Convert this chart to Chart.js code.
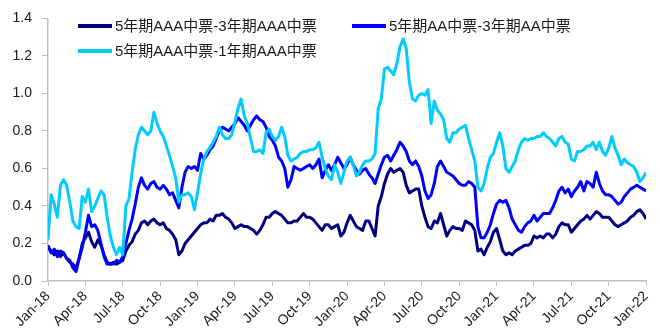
<!DOCTYPE html>
<html>
<head>
<meta charset="utf-8">
<script src="https://cdn.jsdelivr.net/npm/chart.js@4/dist/chart.umd.min.js"></script>
<style>
  html, body { margin: 0; padding: 0; background: #ffffff; }
  #wrap { width: 660px; height: 333px; position: relative; }
</style>
</head>
<body>
<div id="wrap"><canvas id="c" width="660" height="333"></canvas></div>
<script>
// Quarter tick labels on the time axis (one every 3 months)
const quarterLabels = ['Jan-18','Apr-18','Jul-18','Oct-18','Jan-19','Apr-19','Jul-19','Oct-19',
  'Jan-20','Apr-20','Jul-20','Oct-20','Jan-21','Apr-21','Jul-21','Oct-21','Jan-22'];

// Spread series, one value per quarter month from Jan 2018 to Jan 2022 (pct points);
// each row holds one quarter of a year
const spreadAAA5y3y = [
  0.18,0.16,0.14,0.16,0.13,0.15,0.12,0.10,0.09,0.07,0.12,0.20,
  0.23,0.26,0.21,0.18,0.22,0.19,0.14,0.10,0.09,0.10,0.09,0.10,
  0.11,0.16,0.19,0.21,0.25,0.27,0.31,0.32,0.30,0.32,0.33,0.31,
  0.30,0.31,0.28,0.27,0.25,0.22,0.14,0.16,0.20,0.22,0.24,0.26,
  0.28,0.30,0.31,0.31,0.33,0.32,0.35,0.35,0.36,0.34,0.33,0.31,
  0.28,0.29,0.30,0.29,0.29,0.28,0.27,0.25,0.27,0.30,0.34,0.34,
  0.36,0.37,0.36,0.35,0.33,0.31,0.31,0.32,0.32,0.34,0.36,0.34,
  0.34,0.33,0.31,0.29,0.27,0.30,0.30,0.28,0.29,0.30,0.24,0.26,
  0.31,0.35,0.32,0.29,0.28,0.27,0.32,0.32,0.28,0.24,0.40,0.45,
  0.52,0.57,0.60,0.58,0.59,0.60,0.58,0.51,0.47,0.48,0.49,0.49,
  0.40,0.34,0.29,0.28,0.32,0.31,0.36,0.30,0.24,0.27,0.29,0.28,
  0.28,0.27,0.32,0.31,0.30,0.27,0.16,0.17,0.14,0.18,0.21,0.26,
  0.28,0.22,0.16,0.14,0.15,0.14,0.16,0.17,0.18,0.19,0.19,0.20,
  0.24,0.23,0.24,0.23,0.25,0.25,0.23,0.25,0.29,0.31,0.30,0.30,
  0.26,0.28,0.30,0.32,0.33,0.35,0.33,0.35,0.37,0.36,0.34,0.34,
  0.34,0.32,0.30,0.29,0.30,0.31,0.32,0.34,0.35,0.37,0.38,0.36,
  0.33
];
const spreadAA5y3y = [
  0.19,0.15,0.17,0.13,0.16,0.15,0.12,0.11,0.07,0.05,0.12,0.18,
  0.26,0.35,0.29,0.30,0.27,0.20,0.13,0.09,0.09,0.09,0.11,0.10,
  0.13,0.20,0.27,0.33,0.41,0.50,0.55,0.51,0.49,0.52,0.53,0.50,
  0.49,0.51,0.49,0.46,0.47,0.43,0.39,0.50,0.58,0.61,0.60,0.61,
  0.59,0.68,0.65,0.67,0.70,0.72,0.76,0.80,0.82,0.81,0.80,0.82,
  0.84,0.87,0.85,0.83,0.80,0.83,0.86,0.88,0.86,0.85,0.82,0.77,
  0.75,0.72,0.66,0.64,0.60,0.50,0.54,0.61,0.60,0.59,0.60,0.61,
  0.62,0.60,0.62,0.65,0.55,0.59,0.62,0.59,0.62,0.66,0.63,0.60,
  0.62,0.66,0.62,0.59,0.57,0.59,0.60,0.57,0.55,0.52,0.57,0.62,
  0.66,0.67,0.64,0.67,0.70,0.74,0.72,0.69,0.64,0.62,0.64,0.61,
  0.56,0.48,0.44,0.46,0.52,0.61,0.64,0.61,0.58,0.57,0.56,0.54,
  0.52,0.51,0.51,0.53,0.52,0.50,0.29,0.23,0.23,0.26,0.30,0.36,
  0.41,0.43,0.42,0.43,0.39,0.33,0.30,0.27,0.26,0.29,0.31,0.32,
  0.35,0.32,0.34,0.36,0.36,0.36,0.39,0.43,0.48,0.50,0.47,0.49,
  0.45,0.48,0.50,0.53,0.48,0.53,0.52,0.50,0.58,0.52,0.48,0.46,
  0.46,0.45,0.43,0.41,0.42,0.45,0.47,0.49,0.50,0.51,0.50,0.49,
  0.48
];
const spreadAAA5y1y = [
  0.22,0.46,0.41,0.34,0.51,0.54,0.51,0.42,0.32,0.29,0.28,0.45,
  0.42,0.49,0.37,0.40,0.44,0.48,0.46,0.34,0.24,0.18,0.14,0.18,
  0.14,0.40,0.44,0.58,0.70,0.78,0.82,0.80,0.78,0.80,0.90,0.84,
  0.80,0.77,0.72,0.67,0.61,0.55,0.42,0.46,0.46,0.47,0.45,0.38,
  0.47,0.57,0.65,0.69,0.71,0.74,0.77,0.82,0.78,0.76,0.76,0.78,
  0.85,0.92,0.97,0.88,0.84,0.76,0.69,0.69,0.70,0.68,0.79,0.81,
  0.77,0.75,0.77,0.82,0.77,0.67,0.64,0.65,0.66,0.68,0.69,0.69,
  0.70,0.70,0.71,0.74,0.66,0.60,0.56,0.54,0.62,0.58,0.52,0.58,
  0.64,0.66,0.62,0.56,0.58,0.62,0.64,0.64,0.65,0.68,0.92,0.97,
  1.13,1.14,1.12,1.10,1.16,1.25,1.29,1.24,1.06,0.97,0.96,0.99,
  1.00,0.99,1.02,0.84,0.96,0.91,0.89,0.86,0.76,0.74,0.79,0.79,
  0.81,0.82,0.83,0.76,0.70,0.64,0.50,0.48,0.52,0.60,0.66,0.68,
  0.74,0.79,0.72,0.60,0.58,0.61,0.64,0.70,0.74,0.76,0.75,0.76,
  0.76,0.77,0.77,0.79,0.77,0.76,0.74,0.72,0.76,0.77,0.74,0.73,
  0.65,0.64,0.69,0.69,0.70,0.72,0.72,0.74,0.70,0.74,0.69,0.67,
  0.71,0.77,0.71,0.67,0.62,0.65,0.63,0.62,0.61,0.58,0.53,0.55,
  0.58
];

const seriesNames = ['5年期AAA中票-3年期AAA中票', '5年期AA中票-3年期AA中票', '5年期AAA中票-1年期AAA中票'];
const seriesColors = ['#000080', '#0000FF', '#00CCFF'];

// Sample positions in months since Jan 2018 (quarter-month steps)
const sampleMonths = spreadAAA5y3y.map((_, i) => i / 4);
const toPoints = (vals) => vals.map((v, i) => ({ x: sampleMonths[i], y: v }));

const tickFont = { family: '"Liberation Sans", Arial, sans-serif', size: 14 };
const axisGrey = '#BFBFBF';

// Legend drawn inside the plot area, two items on the first row, one on the second
const legendSlots = [ { x: 78, y: 26 }, { x: 352, y: 26 }, { x: 78, y: 51 } ];
const insideLegend = {
  id: 'insideLegend',
  afterDraw(chart) {
    const ctx = chart.ctx;
    ctx.save();
    chart.data.datasets.forEach((ds, i) => {
      const slot = legendSlots[i];
      ctx.strokeStyle = ds.borderColor;
      ctx.lineWidth = 4;
      ctx.lineCap = 'butt';
      ctx.beginPath();
      ctx.moveTo(slot.x, slot.y);
      ctx.lineTo(slot.x + 34, slot.y);
      ctx.stroke();
      ctx.fillStyle = '#1a1a1a';
      ctx.font = '15px "Liberation Sans", "Noto Sans CJK SC", sans-serif';
      ctx.textBaseline = 'middle';
      ctx.textAlign = 'left';
      ctx.fillText(ds.label, slot.x + 37, slot.y + 1);
    });
    ctx.restore();
  }
};

const datasets = [spreadAAA5y3y, spreadAA5y3y, spreadAAA5y1y].map((vals, i) => ({
  label: seriesNames[i],
  data: toPoints(vals),
  borderColor: seriesColors[i],
  backgroundColor: seriesColors[i],
  borderWidth: 3,
  pointRadius: 0,
  tension: 0,
  borderJoinStyle: 'round',
  order: 3 - i
}));

new Chart(document.getElementById('c'), {
  type: 'line',
  data: { datasets },
  options: {
    responsive: false,
    animation: false,
    devicePixelRatio: 1,
    layout: { padding: { top: 16, right: 1, left: 0, bottom: 0 } },
    plugins: { legend: { display: false }, tooltip: { enabled: false } },
    scales: {
      x: {
        type: 'linear',
        min: 0,
        max: 48,
        afterFit(scale) { scale.height = 52; },
        afterBuildTicks(scale) { scale.ticks = quarterLabels.map((_, i) => ({ value: i * 3 })); },
        ticks: {
          autoSkip: false,
          minRotation: 45,
          maxRotation: 45,
          padding: 2,
          color: '#1a1a1a',
          font: tickFont,
          callback: (v) => quarterLabels[Math.round(v / 3)]
        },
        grid: { drawOnChartArea: false, drawTicks: true, tickLength: 5, color: axisGrey, lineWidth: 1 },
        border: { color: axisGrey, width: 1.5 }
      },
      y: {
        min: 0,
        max: 1.4,
        afterFit(scale) { scale.width = 48; },
        ticks: {
          stepSize: 0.2,
          padding: 10,
          color: '#1a1a1a',
          font: tickFont,
          callback: (v) => v.toFixed(1)
        },
        grid: { drawOnChartArea: false, drawTicks: true, tickLength: 6, color: axisGrey, lineWidth: 1 },
        border: { color: axisGrey, width: 1.5 }
      }
    }
  },
  plugins: [insideLegend]
});
</script>
</body>
</html>
